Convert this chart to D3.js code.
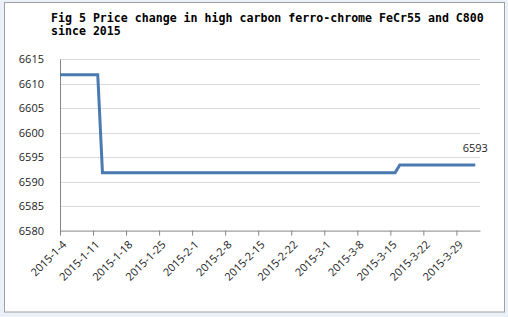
<!DOCTYPE html>
<html>
<head>
<meta charset="utf-8">
<script src="https://cdn.jsdelivr.net/npm/d3@7"></script>
<style>
  body { margin: 0; background: #eaf1f8; }
  svg { display: block; }
  .title { font-family: "DejaVu Sans Mono", monospace; font-weight: bold; font-size: 11.6px; fill: #000; }
  .axis text { font-family: "Open Sans", sans-serif; font-size: 11px; fill: #222; }
</style>
</head>
<body>
<div id="chart"></div>
<script>
// data (step points of the price line)
var dates = ["2015-01-04", "2015-01-12", "2015-01-13", "2015-03-16", "2015-03-17", "2015-04-02"];
var prices = [6611.8, 6611.8, 6591.8, 6591.8, 6593.4, 6593.4];

var xTickLabels = ["2015-1-4", "2015-1-11", "2015-1-18", "2015-1-25", "2015-2-1", "2015-2-8",
    "2015-2-15", "2015-2-22", "2015-3-1", "2015-3-8", "2015-3-15", "2015-3-22", "2015-3-29"];
var yTicks = [6580, 6585, 6590, 6595, 6600, 6605, 6610, 6615];
var xDomain = ["2015-01-04", "2015-04-03"];
var titleLines = ["Fig 5 Price change in high carbon ferro-chrome FeCr55 and C800", "since 2015"];

var W = 508, H = 317;
var margin = {top: 59, right: 28, bottom: 86.4, left: 60},
    width = W - margin.left - margin.right,
    height = H - margin.top - margin.bottom;

var parseISO = d3.timeParse("%Y-%m-%d");
function parseLabel(s) {
    var p = s.split("-");
    return new Date(+p[0], +p[1] - 1, +p[2]);
}

var data = dates.map(function(d, i) { return {date: parseISO(d), price: prices[i]}; });

var svg = d3.select("#chart").append("svg")
    .attr("width", W)
    .attr("height", H);

// chart frame
svg.append("rect")
    .attr("x", 4.5).attr("y", 2.5)
    .attr("width", 500).attr("height", 309.5)
    .attr("fill", "#fff")
    .attr("stroke", "#a0a0a0");

svg.append("text")
    .attr("class", "title")
    .selectAll("tspan")
    .data(titleLines)
  .enter().append("tspan")
    .attr("x", 51)
    .attr("y", function(d, i) { return 22 + i * 12.5; })
    .text(function(d) { return d; });

var g = svg.append("g")
    .attr("transform", "translate(" + margin.left + "," + margin.top + ")");

var x = d3.scaleTime()
    .domain(xDomain.map(parseISO))
    .range([0, width]);

var y = d3.scaleLinear()
    .domain([yTicks[0], yTicks[yTicks.length - 1]])
    .range([height, 0]);

// gridlines
g.selectAll(".grid")
    .data(yTicks.slice(1))
  .enter().append("line")
    .attr("x1", 0).attr("x2", width)
    .attr("y1", function(d) { return Math.round(y(d)) + 0.5; })
    .attr("y2", function(d) { return Math.round(y(d)) + 0.5; })
    .attr("stroke", "#d9d9d9");

var yAxis = d3.axisLeft(y)
    .tickValues(yTicks)
    .tickFormat(d3.format("d"))
    .tickSize(0)
    .tickPadding(16);

var yG = g.append("g")
    .attr("class", "axis")
    .call(yAxis);
yG.select(".domain").attr("stroke", "#868686");

var xAxis = d3.axisBottom(x)
    .tickValues(xTickLabels.map(parseLabel))
    .tickFormat(function(d, i) { return xTickLabels[i]; })
    .tickSize(5)
    .tickSizeOuter(0);

var xG = g.append("g")
    .attr("class", "axis")
    .attr("transform", "translate(0," + height + ")")
    .call(xAxis);
xG.select(".domain").attr("stroke", "#868686");
xG.selectAll(".tick line").attr("stroke", "#868686");
xG.selectAll(".tick text")
    .attr("text-anchor", "end")
    .attr("x", 0)
    .attr("y", 0)
    .attr("dy", "0.35em")
    .attr("transform", "translate(4,12) rotate(-45)");

var line = d3.line()
    .x(function(d) { return x(d.date); })
    .y(function(d) { return y(d.price); });

g.append("path")
    .datum(data)
    .attr("fill", "none")
    .attr("stroke", "#4a7ab0")
    .attr("stroke-width", 3)
    .attr("d", line);

var last = data[data.length - 1];
g.append("text")
    .attr("x", x(last.date))
    .attr("y", y(last.price) - 13)
    .attr("text-anchor", "middle")
    .style("font-family", "'Open Sans', sans-serif")
    .style("font-size", "11px")
    .attr("fill", "#222")
    .text(d3.format(".0f")(last.price));
</script>
</body>
</html>
